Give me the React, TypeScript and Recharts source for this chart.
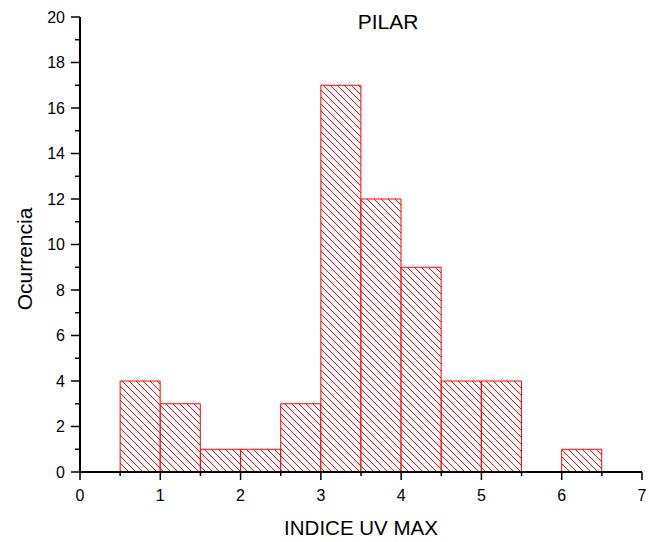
import React from "react";
import { BarChart, Bar, XAxis, YAxis } from "recharts";

// histogram bins (width 0.5) of max UV index
const BIN_CENTERS = [0.75, 1.25, 1.75, 2.25, 2.75, 3.25, 3.75, 4.25, 4.75, 5.25, 5.75, 6.25];
const COUNTS = [4, 3, 1, 1, 3, 17, 12, 9, 4, 4, 0, 1];

const X_TICKS = [0, 0.5, 1, 1.5, 2, 2.5, 3, 3.5, 4, 4.5, 5, 5.5, 6, 6.5, 7];
const Y_TICKS = [0, 1, 2, 3, 4, 5, 6, 7, 8, 9, 10, 11, 12, 13, 14, 15, 16, 17, 18, 19, 20];

const TITLE = "PILAR";
const X_LABEL = "INDICE UV MAX";
const Y_LABEL = "Ocurrencia";

const data = BIN_CENTERS.map((x, i) => ({ x, count: COUNTS[i] }));

const FONT = "Arial, 'Liberation Sans', sans-serif";
const RED = "#ff0000";

function XTick(props: any) {
  const { x, y, payload } = props;
  const major = Number.isInteger(payload.value);
  return (
    <g>
      <line x1={x} x2={x} y1={y} y2={y + (major ? 8 : 4)} stroke="#000" strokeWidth={1.5} />
      {major && (
        <text x={x} y={y + 29} textAnchor="middle" fontSize={16} fontFamily={FONT} fill="#000">
          {payload.value}
        </text>
      )}
    </g>
  );
}

function YTick(props: any) {
  const { x, y, payload } = props;
  const major = payload.value % 2 === 0;
  return (
    <g>
      <line x1={x} x2={x - (major ? 9 : 5)} y1={y} y2={y} stroke="#000" strokeWidth={1.5} />
      {major && (
        <text x={x - 15} y={y} dy="0.36em" textAnchor="end" fontSize={16} fontFamily={FONT} fill="#000">
          {payload.value}
        </text>
      )}
    </g>
  );
}

export default function App() {
  return (
    <div style={{ position: "absolute", left: 0, top: 0, width: 649, height: 542, background: "#fff" }}>
      <BarChart
        width={649}
        height={542}
        data={data}
        margin={{ top: 17, right: 7, bottom: 0, left: 0 }}
        barCategoryGap={0}
        barGap={0}
      >
        <defs>
          <pattern id="hatch" patternUnits="userSpaceOnUse" width={7} height={7}>
            <rect width={7} height={7} fill="#fff" />
            <path d="M0,0 L7,7 M-1,6 L1,8 M6,-1 L8,1" stroke={RED} strokeWidth={1} />
          </pattern>
        </defs>
        <XAxis
          dataKey="x"
          type="number"
          domain={[0, 7]}
          ticks={X_TICKS}
          interval={0}
          height={70}
          tickSize={0}
          tickMargin={0}
          tickLine={false}
          axisLine={{ stroke: "#000", strokeWidth: 2 }}
          tick={<XTick />}
          label={{
            content: (p: any) => {
              const vb = p.viewBox;
              return (
                <text x={vb.x + vb.width / 2} y={535} textAnchor="middle" fontSize={20.5} fontFamily={FONT} fill="#000">
                  {X_LABEL}
                </text>
              );
            },
          }}
        />
        <YAxis
          type="number"
          domain={[0, 20]}
          ticks={Y_TICKS}
          interval={0}
          width={80}
          tickSize={0}
          tickMargin={0}
          tickLine={false}
          axisLine={{ stroke: "#000", strokeWidth: 2 }}
          tick={<YTick />}
          label={{
            content: () => (
              <text
                x={32}
                y={259}
                transform="rotate(-90, 32, 259)"
                textAnchor="middle"
                fontSize={21}
                fontFamily={FONT}
                fill="#000"
              >
                {Y_LABEL}
              </text>
            ),
          }}
        />
        <Bar dataKey="count" fill="url(#hatch)" stroke={RED} strokeWidth={1} isAnimationActive={false} />
      </BarChart>
      <div
        style={{
          position: "absolute",
          left: 338,
          width: 100,
          top: 10,
          textAlign: "center",
          fontFamily: FONT,
          fontSize: 21,
          lineHeight: "24px",
          color: "#000",
        }}
      >
        {TITLE}
      </div>
    </div>
  );
}
